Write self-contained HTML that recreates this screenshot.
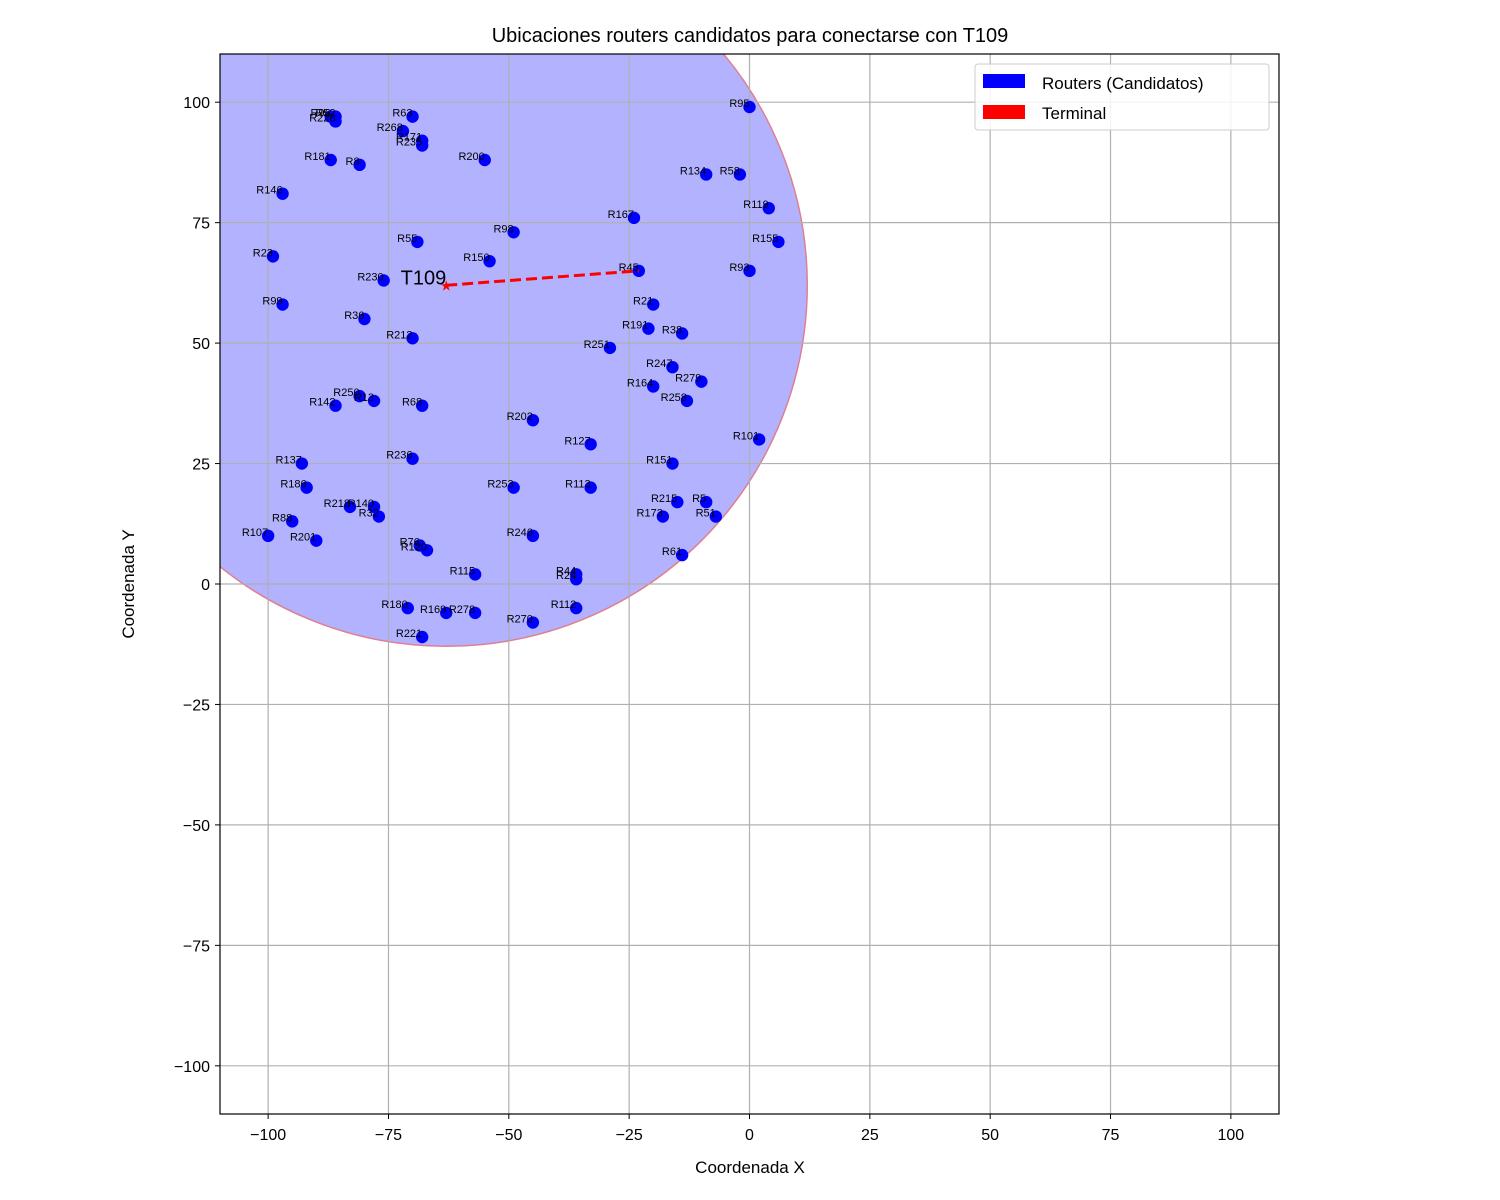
<!DOCTYPE html>
<html><head><meta charset="utf-8"><style>body{margin:0;background:#fff}svg{display:block;font-family:"Liberation Sans","DejaVu Sans",sans-serif}</style></head>
<body>
<svg id="chart" width="1500" height="1200"></svg>
<script>
const routerNames=["R96","R52","R228","R63","R268","R171","R235","R181","R8","R200","R146","R23","R55","R98","R150","R230","R99","R36","R212","R250","R13","R142","R68","R202","R137","R236","R186","R253","R113","R218","R140","R32","R88","R107","R201","R76","R120","R246","R115","R44","R24","R180","R169","R278","R112","R270","R221","R95","R134","R58","R119","R167","R155","R45","R93","R21","R191","R38","R251","R247","R279","R164","R258","R127","R101","R151","R215","R5","R173","R51","R61"];
const routerX=[-87,-86,-86,-70,-72,-68,-68,-87,-81,-55,-97,-99,-69,-49,-54,-76,-97,-80,-70,-81,-78,-86,-68,-45,-93,-70,-92,-49,-33,-83,-78,-77,-95,-100,-90,-68.5,-67,-45,-57,-36,-36,-71,-63,-57,-36,-45,-68,0,-9,-2,4,-24,6,-23,0,-20,-21,-14,-29,-16,-10,-20,-13,-33,2,-16,-15,-9,-18,-7,-14];
const routerY=[97,97,96,97,94,92,91,88,87,88,81,68,71,73,67,63,58,55,51,39,38,37,37,34,25,26,20,20,20,16,16,14,13,10,9,8,7,10,2,2,1,-5,-6,-6,-5,-8,-11,99,85,85,78,76,71,65,65,58,53,52,49,45,42,41,38,29,30,25,17,17,14,14,6];
const terminal=[-63,62];
const chosenRouter=[-23,65];
const radius=75;
const ticks=[-100,-75,-50,-25,0,25,50,75,100];
const NS="http://www.w3.org/2000/svg";
const L=220,R=1279,T=54,B=1114;
const sx=v=>L+(v+110)/220*(R-L);
const sy=v=>B-(v+110)/220*(B-T);
const svg=document.getElementById('chart');
function mk(t,a,p){const e=document.createElementNS(NS,t);for(const k in a)e.setAttribute(k,a[k]);(p||svg).appendChild(e);return e;}
const defs=mk('clipPath',{id:'clip'});mk('rect',{x:L,y:T,width:R-L,height:B-T},defs);
const rad=radius*(R-L)/220;
const c=mk('circle',{cx:sx(terminal[0]),cy:sy(terminal[1]),r:rad,fill:'rgba(0,0,255,0.3)',stroke:'#e07f8f','stroke-width':1.5,'clip-path':'url(#clip)'});


const grid=mk('g',{});


ticks.forEach(t=>{
 mk('line',{x1:sx(t),x2:sx(t),y1:T,y2:B,stroke:'#b0b0b0','stroke-width':1.2},grid);
 mk('line',{x1:L,x2:R,y1:sy(t),y2:sy(t),stroke:'#b0b0b0','stroke-width':1.2},grid);
 const xl=mk('text',{x:sx(t),y:B+26,'text-anchor':'middle','font-size':16});xl.textContent=t<0?'\u2212'+(-t):t;
 
 
 mk('line',{x1:sx(t),x2:sx(t),y1:B,y2:B+5,stroke:'#000'});
 const yl=mk('text',{x:L-10,y:sy(t)+6,'text-anchor':'end','font-size':16});yl.textContent=t<0?'\u2212'+(-t):t;
 
 
 mk('line',{x1:L-5,x2:L,y1:sy(t),y2:sy(t),stroke:'#000'});
});
routerX.forEach((x,i)=>{
 const p=mk('circle',{cx:sx(x),cy:sy(routerY[i]),r:6.2,fill:'#0000ff','clip-path':'url(#clip)'});
 
 
 const tx=mk('text',{x:sx(x),y:sy(routerY[i]),'text-anchor':'end','font-size':11});tx.textContent=routerNames[i];
 
 
});
const ln=mk('line',{x1:sx(terminal[0]),y1:sy(terminal[1]),x2:sx(chosenRouter[0]),y2:sy(chosenRouter[1]),stroke:'#ff0000','stroke-width':3,'stroke-dasharray':'11,5'});


const st=mk('text',{x:sx(terminal[0]),y:sy(terminal[1])+5,'text-anchor':'middle','font-size':14,fill:'#ff0000'});st.textContent='★';


const tl=mk('text',{x:sx(terminal[0]),y:sy(terminal[1])-1,'text-anchor':'end','font-size':20});tl.textContent='T109';


const fr=mk('rect',{x:L,y:T,width:R-L,height:B-T,fill:'none',stroke:'#000','stroke-width':1.2});


const ti=mk('text',{x:750,y:42,'text-anchor':'middle','font-size':20});ti.textContent='Ubicaciones routers candidatos para conectarse con T109';


const xt=mk('text',{x:750,y:1173,'text-anchor':'middle','font-size':17});xt.textContent='Coordenada X';


const yt=mk('text',{x:134,y:584,'text-anchor':'middle','font-size':17,transform:'rotate(-90 134 584)'});yt.textContent='Coordenada Y';


const lg=mk('g',{});


mk('rect',{x:975,y:64,width:294,height:66,rx:3,fill:'#fff','fill-opacity':0.85,stroke:'#ccc'},lg);
mk('rect',{x:983,y:74,width:42,height:14,fill:'#0000ff'},lg);
const l1=mk('text',{x:1042,y:89,'font-size':17},lg);l1.textContent='Routers (Candidatos)';


mk('rect',{x:983,y:105,width:42,height:14,fill:'#ff0000'},lg);
const l2=mk('text',{x:1042,y:119,'font-size':17},lg);l2.textContent='Terminal';


</script>
</body></html>
